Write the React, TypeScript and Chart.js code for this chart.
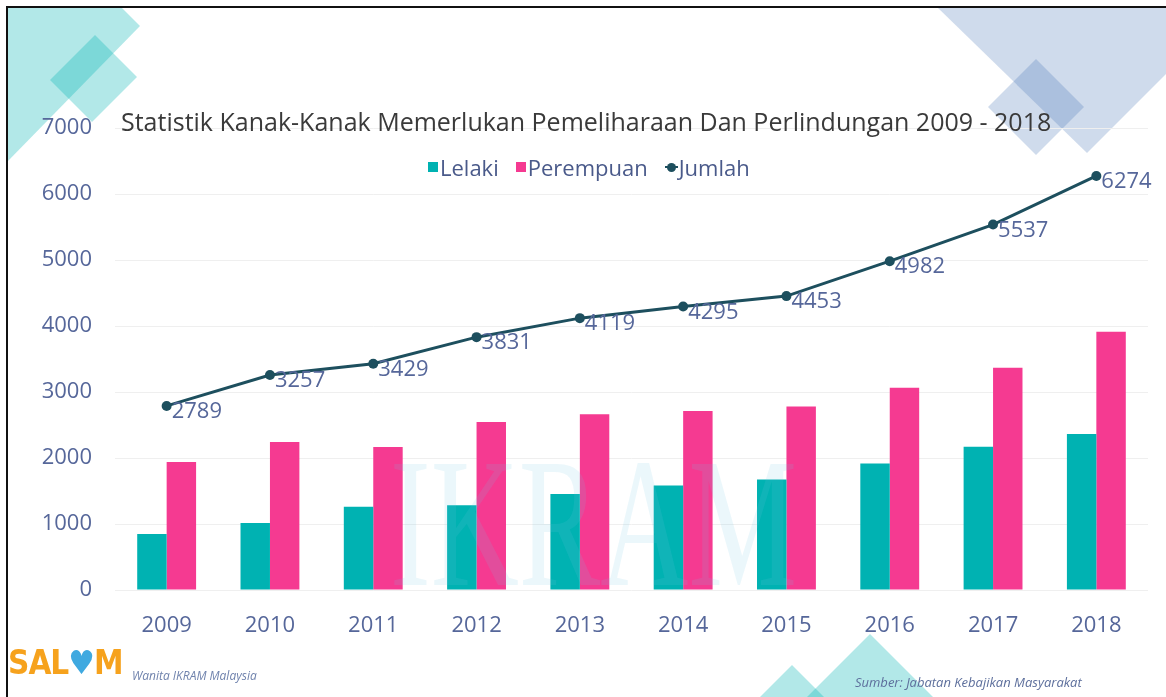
import React, { useEffect, useRef } from 'react';
import { Chart, registerables } from 'chart.js';

Chart.register(...registerables);

const years = ['2009', '2010', '2011', '2012', '2013', '2014', '2015', '2016', '2017', '2018'];
const lelaki = [848, 1016, 1261, 1285, 1455, 1582, 1673, 1917, 2171, 2363];
const perempuan = [1941, 2241, 2168, 2546, 2664, 2713, 2780, 3065, 3366, 3911];
const jumlah = [2789, 3257, 3429, 3831, 4119, 4295, 4453, 4982, 5537, 6274];
const yMin = 0;
const yMax = 7000;
const yStep = 1000;

const TEAL = '#00b2b2';
const PINK = '#f53a91';
const LINE = '#1d4f5e';
const TICK = '#56679a';
const FONT = "'Open Sans', sans-serif";

const pointLabels = {
  id: 'pointLabels',
  afterDatasetsDraw(chart: any) {
    const meta = chart.getDatasetMeta(2);
    const ctx = chart.ctx;
    ctx.save();
    ctx.font = `22px ${FONT}`;
    ctx.fillStyle = TICK;
    ctx.textAlign = 'left';
    ctx.textBaseline = 'middle';
    meta.data.forEach((pt: any, i: number) => {
      ctx.fillText(String(jumlah[i]), pt.x + 5, pt.y + 6);
    });
    ctx.restore();
  },
};

export default function App() {
  const ref = useRef<HTMLCanvasElement | null>(null);

  useEffect(() => {
    if (!ref.current) return;
    const chart = new Chart(ref.current, {
      type: 'bar',
      data: {
        labels: years,
        datasets: [
          {
            label: 'Lelaki',
            data: lelaki,
            backgroundColor: TEAL,
            borderWidth: 0,
            categoryPercentage: 0.57,
            barPercentage: 1.0,
            order: 2,
          },
          {
            label: 'Perempuan',
            data: perempuan,
            backgroundColor: PINK,
            borderWidth: 0,
            categoryPercentage: 0.57,
            barPercentage: 1.0,
            order: 2,
          },
          {
            type: 'line',
            label: 'Jumlah',
            data: jumlah,
            borderColor: LINE,
            backgroundColor: LINE,
            borderWidth: 3,
            pointRadius: 5,
            pointBackgroundColor: LINE,
            pointBorderWidth: 0,
            tension: 0,
            order: 1,
          } as any,
        ],
      },
      options: {
        responsive: false,
        animation: false,
        devicePixelRatio: 1,
        layout: { padding: { left: 0, top: 128, right: 18, bottom: 0 } },
        plugins: {
          legend: { display: false },
          title: { display: false },
          tooltip: { enabled: false },
        },
        scales: {
          x: {
            grid: { display: false },
            border: { display: false },
            ticks: { color: TICK, font: { family: FONT, size: 22 }, padding: 15 },
            afterFit: (s: any) => {
              s.height = 107;
            },
          },
          y: {
            min: yMin,
            max: yMax,
            grid: { color: '#efefef', lineWidth: 1, drawTicks: false },
            border: { display: false },
            ticks: {
              stepSize: yStep,
              color: TICK,
              font: { family: FONT, size: 22 },
              padding: 23,
              callback: (v: any) => String(v),
            },
            afterFit: (s: any) => {
              s.width = 115;
            },
          },
        },
      },
      plugins: [pointLabels],
    });
    return () => chart.destroy();
  }, []);

  const legendItem = (color: string, text: string, dot = false) => (
    <span style={{ display: 'inline-flex', alignItems: 'center', marginRight: 17 }}>
      {dot ? (
        <span style={{ position: 'relative', width: 13, height: 10, marginRight: 1 }}>
          <span style={{ position: 'absolute', left: 0, top: 4, width: 13, height: 2, background: color }} />
          <span style={{ position: 'absolute', left: 2, top: 0.5, width: 9, height: 9, borderRadius: '50%', background: color }} />
        </span>
      ) : (
        <span style={{ width: 10, height: 10, background: color, marginRight: 2 }} />
      )}
      <span>{text}</span>
    </span>
  );

  return (
    <div
      style={{
        position: 'absolute',
        left: 0,
        top: 0,
        width: 1166,
        height: 697,
        background: '#ffffff',
        overflow: 'hidden',
        fontFamily: FONT,
      }}
    >
      <svg width={1166} height={697} style={{ position: 'absolute', left: 0, top: 0 }}>
        <polygon points="7,7 121,7 140,26 7,162" fill="rgba(0,178,178,0.30)" />
        <polygon points="95,35 137,77 92,122 50,80" fill="rgba(0,178,178,0.30)" />
        <polygon points="937,7 1166,7 1166,74 1087,153" fill="rgba(70,115,180,0.26)" />
        <polygon points="1036,59 1084,107 1036,155 988,107" fill="rgba(70,115,180,0.26)" />
        <polygon points="870,634 934,698 806,698" fill="rgba(0,178,178,0.30)" />
        <polygon points="792,665 825,698 759,698" fill="rgba(0,178,178,0.30)" />
      </svg>
      <canvas ref={ref} width={1166} height={697} style={{ position: 'absolute', left: 0, top: 0 }} />
      <div
        style={{
          position: 'absolute',
          left: 390,
          top: 430,
          fontFamily: "'Liberation Serif', serif",
          fontSize: 185,
          lineHeight: '185px',
          color: 'rgba(110,195,225,0.14)',
          transform: 'scaleX(0.66)',
          transformOrigin: 'left top',
          whiteSpace: 'nowrap',
          pointerEvents: 'none',
        }}
      >
        IKRAM
      </div>
      <div
        style={{
          position: 'absolute',
          left: 121,
          top: 105,
          fontSize: 25,
          lineHeight: '32px',
          color: '#3a3a3a',
          whiteSpace: 'nowrap',
        }}
      >
        Statistik Kanak-Kanak Memerlukan Pemeliharaan Dan Perlindungan 2009 - 2018
      </div>
      <div
        style={{
          position: 'absolute',
          left: 428,
          top: 152,
          fontSize: 22,
          lineHeight: '30px',
          color: '#4a5a8a',
          whiteSpace: 'nowrap',
          display: 'flex',
        }}
      >
        {legendItem(TEAL, 'Lelaki')}
        {legendItem(PINK, 'Perempuan')}
        {legendItem(LINE, 'Jumlah', true)}
      </div>
      <div
        style={{
          position: 'absolute',
          left: 8,
          top: 643,
          fontFamily: "'DejaVu Sans Condensed', 'DejaVu Sans', sans-serif",
          fontWeight: 'bold',
          fontSize: 33,
          lineHeight: '40px',
          color: '#f6a21d',
          whiteSpace: 'nowrap',
          letterSpacing: -1,
        }}
      >
        SAL<span style={{ color: '#3fa9e0' }}>♥</span>M
      </div>
      <div
        style={{
          position: 'absolute',
          left: 132,
          top: 667,
          fontSize: 12,
          fontStyle: 'italic',
          lineHeight: '18px',
          color: '#7083ad',
          whiteSpace: 'nowrap',
        }}
      >
        Wanita IKRAM Malaysia
      </div>
      <div
        style={{
          position: 'absolute',
          left: 855,
          top: 673,
          fontSize: 13,
          fontStyle: 'italic',
          lineHeight: '18px',
          color: '#5d6f9c',
          whiteSpace: 'nowrap',
        }}
      >
        Sumber: Jabatan Kebajikan Masyarakat
      </div>
      <div
        style={{
          position: 'absolute',
          left: 6,
          top: 6,
          width: 1200,
          height: 720,
          borderLeft: '2px solid #111',
          borderTop: '2px solid #111',
          pointerEvents: 'none',
        }}
      />
    </div>
  );
}
